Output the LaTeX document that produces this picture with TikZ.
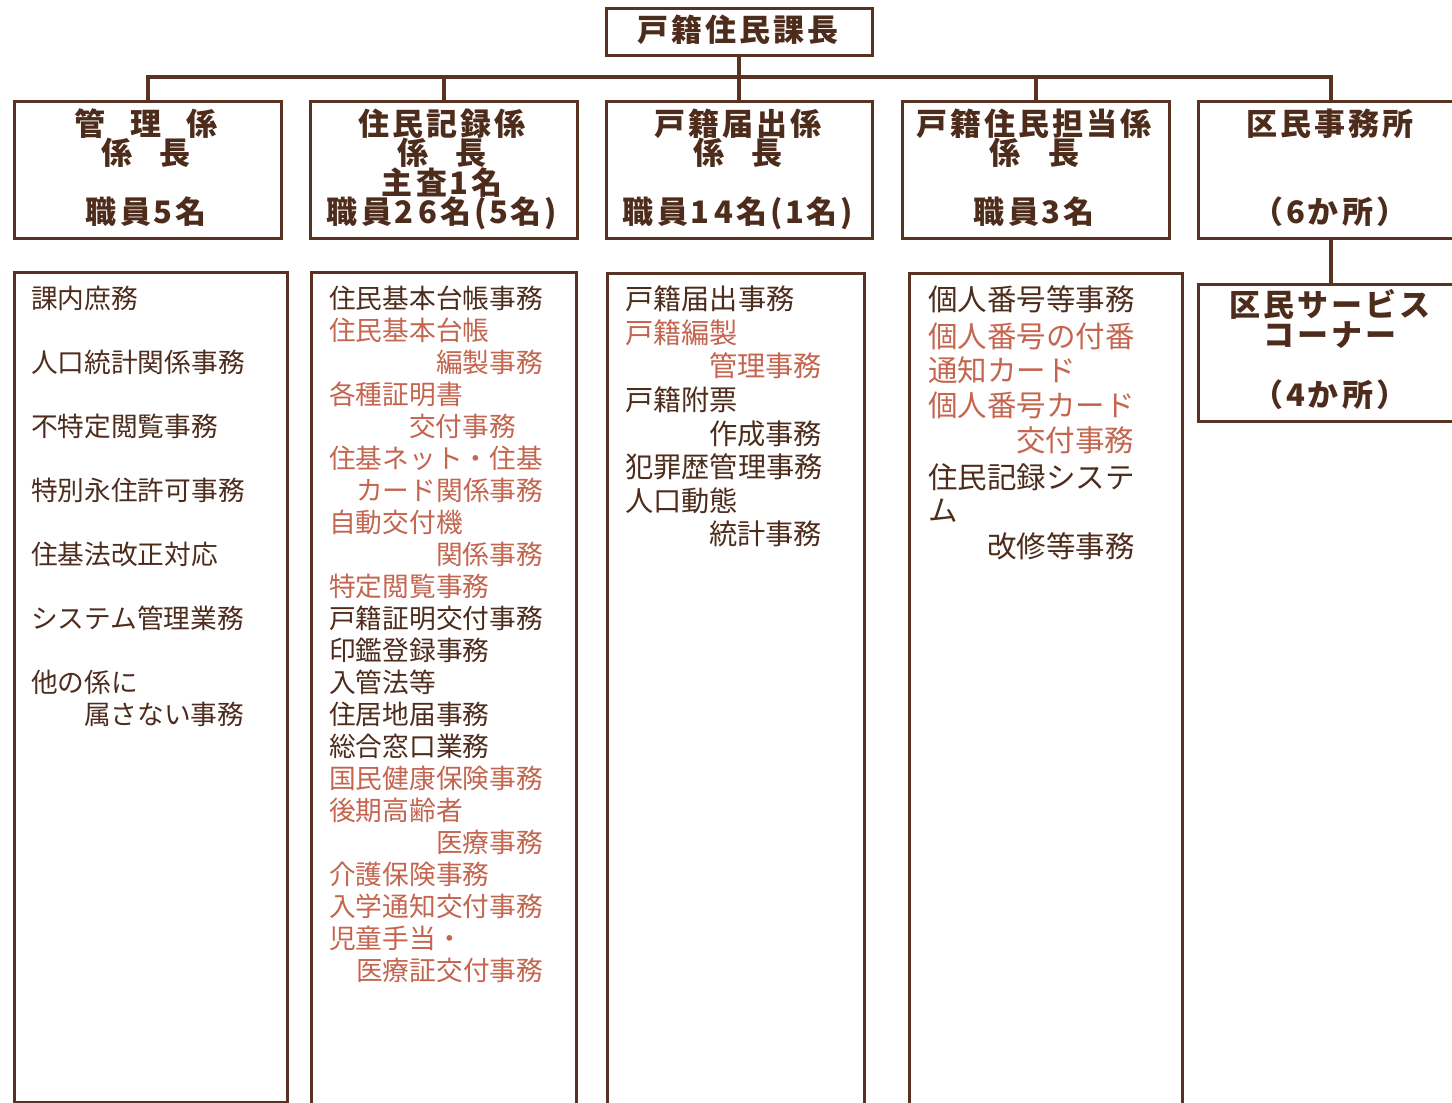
\documentclass[tikz,border=0pt]{standalone}
\usepackage{fontspec}
\setmainfont{Noto Sans CJK JP}
\newfontfamily\hdfont[LetterSpace=10]{Noto Sans CJK JP}
\newcommand\dg[1]{\makebox[24pt]{#1}}
\definecolor{ink}{HTML}{4E2C1C}
\definecolor{linec}{HTML}{5A3222}
\definecolor{rdc}{HTML}{C4654F}
\tikzset{
  box/.style={draw=linec,line width=2.5pt,inner sep=0,anchor=north west},
  conn/.style={draw=linec,line width=4pt},
  hd/.style={font=\hdfont\bfseries\fontsize{31}{31}\selectfont,text=ink,inner sep=0,text height=25pt,text depth=3pt},
  itm/.style={inner sep=0,anchor=west,text=ink},
  rd/.style={text=rdc},
  colA/.style={every node/.append style={font=\fontsize{26.7}{26.7}\selectfont}},
  colC/.style={every node/.append style={font=\fontsize{28.2}{28.2}\selectfont}},
  colD/.style={every node/.append style={font=\fontsize{29.5}{29.5}\selectfont}},
}
\begin{document}
\begin{tikzpicture}[x=1pt,y=-1pt]
\useasboundingbox (0,0) rectangle (1452,1103);
% boxes
\node[box,minimum width=266pt,minimum height=47pt] (head) at (605,7) {};
\node[box,minimum width=267pt,minimum height=137pt] (h1) at (13,100) {};
\node[box,minimum width=267pt,minimum height=137pt] (h2) at (309,100) {};
\node[box,minimum width=266pt,minimum height=137pt] (h3) at (605,100) {};
\node[box,minimum width=267pt,minimum height=137pt] (h4) at (901,100) {};
\node[box,minimum width=266pt,minimum height=137pt] (h5) at (1197,100) {};
\node[box,minimum width=273pt,minimum height=830pt] (b1) at (13,271) {};
\node[box,minimum width=265pt,minimum height=860pt] (b2) at (310,271) {};
\node[box,minimum width=257pt,minimum height=860pt] (b3) at (606,272) {};
\node[box,minimum width=273pt,minimum height=860pt] (b4) at (908,272) {};
\node[box,minimum width=266pt,minimum height=137pt] (b5) at (1197,283) {};
% connectors
\draw[conn] (head.south) -- (h3.north);
\draw[conn] (h1.north) -- ++(0,-23) -| (h5.north);
\draw[conn] (h2.north) -- ++(0,-23);
\draw[conn] (h4.north) -- ++(0,-23);
\draw[conn] (h5.south) -- (b5.north);
% header texts
\node[hd] (t0) at (738,30) {戸籍住民課長};
\node[hd] (t11) at (146,124) {管\hspace{25pt}理\hspace{25pt}係};
\node[hd] (t12) at (146,153) {係\hspace{28pt}長};
\node[hd] (t13) at (146,212) {職員\dg{5}名};
\node[hd] (t21) at (442,124) {住民記録係};
\node[hd] (t22) at (442,153) {係\hspace{28pt}長};
\node[hd] (t23) at (442,183) {主査\dg{1}名};
\node[hd] (t24) at (442,212) {職員\dg{2}\dg{6}名(\dg{5}名)};
\node[hd] (t31) at (738,124) {戸籍届出係};
\node[hd] (t32) at (738,153) {係\hspace{28pt}長};
\node[hd] (t33) at (738,212) {職員\dg{1}\dg{4}名(\dg{1}名)};
\node[hd] (t41) at (1034,124) {戸籍住民担当係};
\node[hd] (t42) at (1034,153) {係\hspace{28pt}長};
\node[hd] (t43) at (1034,212) {職員\dg{3}名};
\node[hd] (t51) at (1330,124) {区民事務所};
\node[hd] (t52) at (1330,212) {（\dg{6}か所）};
\node[hd] (t61) at (1330,305) {区民サービス};
\node[hd] (t62) at (1330,335) {コーナー};
\node[hd] (t63) at (1330,395) {（\dg{4}か所）};
% column 1
\begin{scope}[colA]
\node[itm] (a1) at (31,298) {課内庶務};
\node[itm] (a2) at (31,362) {人口統計関係事務};
\node[itm] (a3) at (31,426) {不特定閲覧事務};
\node[itm] (a4) at (31,490) {特別永住許可事務};
\node[itm] (a5) at (31,554) {住基法改正対応};
\node[itm] (a6) at (31,618) {システム管理業務};
\node[itm] (a7) at (31,682) {他の係に};
\node[itm] (a8) at (84,714) {属さない事務};
% column 2
\node[itm] (c1) at (329,298) {住民基本台帳事務};
\node[itm,rd] (c2) at (329,330) {住民基本台帳};
\node[itm,rd] (c3) at (436,362) {編製事務};
\node[itm,rd] (c4) at (329,394) {各種証明書};
\node[itm,rd] (c5) at (409,426) {交付事務};
\node[itm,rd] (c6) at (329,458) {住基ネット・住基};
\node[itm,rd] (c7) at (356,490) {カード関係事務};
\node[itm,rd] (c8) at (329,522) {自動交付機};
\node[itm,rd] (c9) at (436,554) {関係事務};
\node[itm,rd] (c10) at (329,586) {特定閲覧事務};
\node[itm] (c11) at (329,618) {戸籍証明交付事務};
\node[itm] (c12) at (329,650) {印鑑登録事務};
\node[itm] (c13) at (329,682) {入管法等};
\node[itm] (c14) at (329,714) {住居地届事務};
\node[itm] (c15) at (329,746) {総合窓口業務};
\node[itm,rd] (c16) at (329,778) {国民健康保険事務};
\node[itm,rd] (c17) at (329,810) {後期高齢者};
\node[itm,rd] (c18) at (436,842) {医療事務};
\node[itm,rd] (c19) at (329,874) {介護保険事務};
\node[itm,rd] (c20) at (329,906) {入学通知交付事務};
\node[itm,rd] (c21) at (329,938) {児童手当・};
\node[itm,rd] (c22) at (356,970) {医療証交付事務};
\end{scope}
% column 3
\begin{scope}[colC]
\node[itm] (d1) at (625,299) {戸籍届出事務};
\node[itm,rd] (d2) at (625,333) {戸籍編製};
\node[itm,rd] (d3) at (709,366) {管理事務};
\node[itm] (d4) at (625,400) {戸籍附票};
\node[itm] (d5) at (709,434) {作成事務};
\node[itm] (d6) at (625,467) {犯罪歴管理事務};
\node[itm] (d7) at (625,501) {人口動態};
\node[itm] (d8) at (709,534) {統計事務};
\end{scope}
% column 4
\begin{scope}[colD]
\node[itm] (e1) at (928,299) {個人番号等事務};
\node[itm,rd] (e2) at (928,336) {個人番号の付番};
\node[itm,rd] (e3) at (928,370) {通知カード};
\node[itm,rd] (e4) at (928,405) {個人番号カード};
\node[itm,rd] (e5) at (1016,440) {交付事務};
\node[itm] (e6) at (928,477) {住民記録システ};
\node[itm] (e7) at (928,511) {ム};
\node[itm] (e8) at (987,546) {改修等事務};
\end{scope}
\end{tikzpicture}
\end{document}
